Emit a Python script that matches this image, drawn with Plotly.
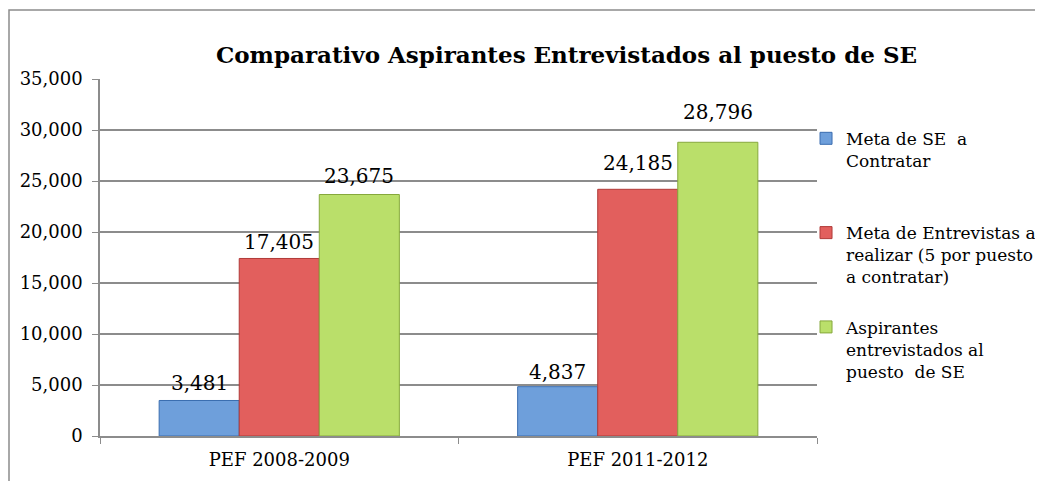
import plotly.graph_objects as go

categories = ["PEF 2008-2009", "PEF 2011-2012"]
series_names = [
    "Meta de SE  a<br>Contratar<br> ",
    "Meta de Entrevistas a<br>realizar (5 por puesto<br>a contratar)",
    "Aspirantes<br>entrevistados al<br>puesto  de SE",
]
meta_se = [3481, 4837]
meta_entrevistas = [17405, 24185]
aspirantes = [23675, 28796]
y_ticks = [0, 5000, 10000, 15000, 20000, 25000, 30000, 35000]

# styles
colors = ["#6E9FDB", "#E25F5D", "#BADF6A"]
line_colors = ["#3A6DB0", "#B03A38", "#86A83C"]
label_lift = [[17, 15], [16, 26], [19, 30]]  # px above bar top (label placement style)
FONT = "DejaVu Serif"

PLOT_W, PLOT_H = 717, 357
L, T = 92, 71
BARGAP = 0.33
bar_px = PLOT_W / len(categories) * (1 - BARGAP) / 3

fig = go.Figure()
all_series = [meta_se, meta_entrevistas, aspirantes]
for i, (name, vals) in enumerate(zip(series_names, all_series)):
    fig.add_trace(go.Bar(
        x=categories, y=vals, name=name,
        marker=dict(color=colors[i], line=dict(color=line_colors[i], width=1)),
        legendgroup=f"g{i}",
    ))
    for j, v in enumerate(vals):
        fig.add_annotation(x=categories[j], y=v, xref="x", yref="y",
                           text=f"{v:,}", showarrow=False,
                           xshift=(i - 1) * bar_px, yshift=label_lift[i][j],
                           yanchor="middle", xanchor="center",
                           font=dict(family=FONT, size=20, color="black"))

fig.update_layout(
    width=1043, height=481,
    margin=dict(l=L, r=1043 - L - PLOT_W, t=T, b=481 - T - PLOT_H, autoexpand=False),
    paper_bgcolor="white", plot_bgcolor="white",
    barmode="group", bargap=BARGAP, bargroupgap=0,
    title=dict(text="<b>Comparativo Aspirantes Entrevistados al puesto de SE</b>",
               font=dict(family=FONT, size=23, color="black"),
               x=558.5 / 1043, xanchor="center", xref="container",
               y=1 - 47 / 481, yanchor="middle", yref="container"),
    legend=dict(x=0.9847, xanchor="left", y=0.883, yanchor="top",
                font=dict(family=FONT, size=17, color="black"),
                tracegroupgap=25, valign="top", bgcolor="rgba(0,0,0,0)",
                itemwidth=30),
    showlegend=True,
)
fig.update_yaxes(range=[0, 35000], tickvals=y_ticks, tickformat=",",
                 showgrid=True, gridcolor="#8C8C8C", gridwidth=1.5,
                 showline=True, linecolor="#8C8C8C", linewidth=1.5,
                 ticks="outside", ticklen=6, tickcolor="#8C8C8C",
                 ticklabelstandoff=6,
                 tickfont=dict(family=FONT, size=18, color="black"), zeroline=False)
fig.update_xaxes(showline=True, linecolor="#8C8C8C", linewidth=1.5,
                 ticks="outside", tickson="boundaries", ticklen=6, tickcolor="#8C8C8C",
                 ticklabelstandoff=7,
                 tickfont=dict(family=FONT, size=18, color="black"))

fig.add_shape(type="rect", xref="paper", yref="paper",
              x0=(1 - L) / PLOT_W, x1=1.5, y0=-0.3, y1=(PLOT_H + T - 2) / PLOT_H,
              line=dict(color="#8C8C8C", width=1.5), fillcolor="rgba(0,0,0,0)", layer="below")

fig.write_html("out.html")
